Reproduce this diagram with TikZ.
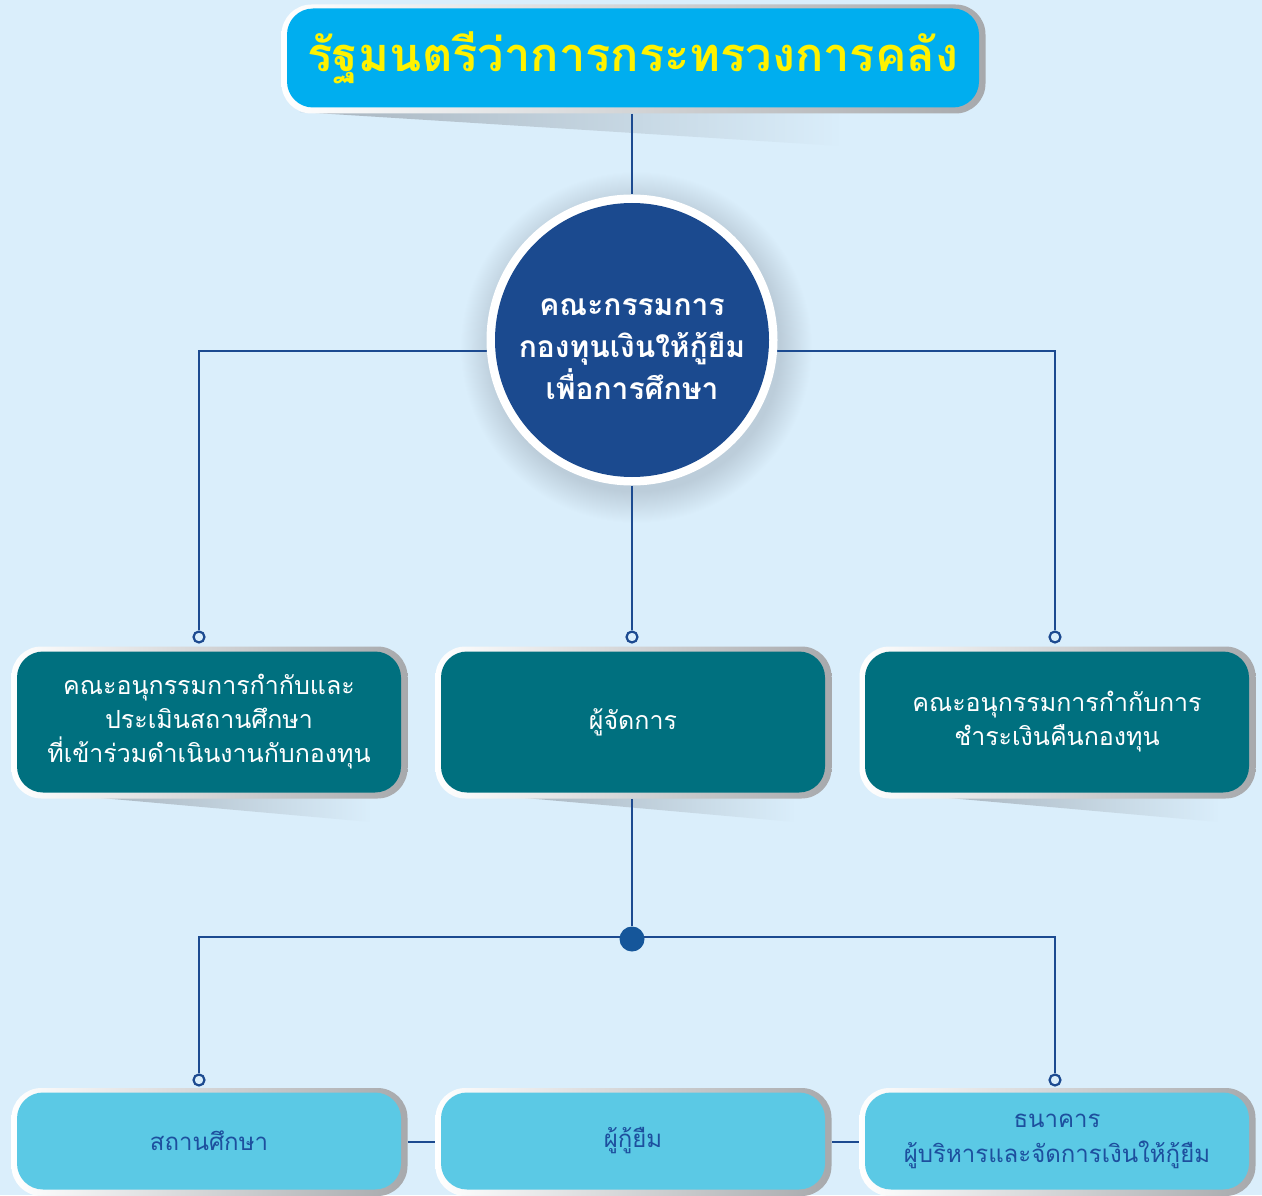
\documentclass[tikz,border=0pt]{standalone}
\usepackage{fontspec}
\usetikzlibrary{fadings}
\newfontfamily\thai[Script=Thai]{Loma}
\definecolor{bgc}{HTML}{DAEEFB}
\definecolor{cyanb}{HTML}{00AEEF}
\definecolor{yel}{HTML}{FFF200}
\definecolor{navy}{HTML}{1B4A8F}
\definecolor{linec}{HTML}{1C4A90}
\definecolor{teal}{HTML}{00707F}
\definecolor{lightb}{HTML}{5BC9E5}
\definecolor{btext}{HTML}{1D4F9E}
\definecolor{frameg}{HTML}{A7A9AC}
\definecolor{shadc}{HTML}{A9B5BF}
\definecolor{glowc}{HTML}{BCCDDA}
\definecolor{dotc}{HTML}{15569A}
\pgfdeclareradialshading{glow}{\pgfpoint{0bp}{0bp}}{color(0bp)=(glowc); color(20.5bp)=(glowc); color(25bp)=(bgc); color(50bp)=(bgc)}
\pgfdeclarelayer{back}
\pgfdeclarelayer{lines}
\pgfsetlayers{back,lines,main}
\begin{document}
\begin{tikzpicture}[x=1pt,y=-1pt,
  outer/.style={rectangle, rounded corners=30pt, left color=white, right color=frameg, inner sep=0pt},
  inner/.style={rectangle, rounded corners=26pt, inner sep=0pt, align=center},
  midbox/.style={inner, fill=teal, text=white, minimum width=384pt, minimum height=141pt,
     font=\thai\fontsize{25}{34}\selectfont},
  botbox/.style={inner, fill=lightb, text=btext, minimum width=384pt, minimum height=97pt,
     font=\thai\fontsize{24}{35}\selectfont},
  midframe/.style={outer, minimum width=396pt, minimum height=152pt},
  botframe/.style={outer, minimum width=396pt, minimum height=108pt},
  conn/.style={draw=linec, line width=2.8pt},
  ring/.style={circle, draw=linec, line width=2.2pt, fill=bgc, minimum size=11pt, inner sep=0pt},
  hubdot/.style={circle, fill=dotc, minimum size=25pt, inner sep=0pt},
  shad/.style={fill=shadc, path fading=east}
]
\begin{pgfonlayer}{back}
\fill[bgc] (0,0) rectangle (1262,1195);
\useasboundingbox (0,0) rectangle (1262,1195);
% shadows
\fill[shad] (300,112) -- (840,112) -- (840,146) -- cycle;
\fill[shad] (90,797) -- (370,797) -- (370,822) -- cycle;
\fill[shad] (514,797) -- (794,797) -- (794,822) -- cycle;
\fill[shad] (938,797) -- (1218,797) -- (1218,822) -- cycle;
% circle glow
\shade[shading=glow] (636,347) circle (176pt);
\end{pgfonlayer}

% top box
\node[outer, minimum width=704pt, minimum height=109pt] (top) at (633.5,59) {};
\node[inner, fill=cyanb, minimum width=692pt, minimum height=99pt, text=yel,
  font=\thai\bfseries\fontsize{47}{50}\selectfont] (topin) at (633,58) {รัฐมนตรีว่าการกระทรวงการคลัง};

% circle
\node[circle, fill=white, minimum size=291pt, inner sep=0pt] (circ) at (632,340) {};
\node[circle, fill=navy, minimum size=274pt, inner sep=0pt] (circin) at (632,340) {};
\node[text=white, align=center, font=\thai\bfseries\fontsize{30}{42}\selectfont]
  (circtext) at (632,349) {คณะกรรมการ\\กองทุนเงินให้กู้ยืม\\เพื่อการศึกษา};

% middle row
\node[midframe] (m1f) at (209.5,722.5) {};
\node[midbox] (m1) at (209,722) {คณะอนุกรรมการกำกับและ\\ประเมินสถานศึกษา\\ที่เข้าร่วมดำเนินงานกับกองทุน};
\node[midframe] (m2f) at (633.5,722.5) {};
\node[midbox] (m2) at (633,722) {ผู้จัดการ};
\node[midframe] (m3f) at (1057.5,722.5) {};
\node[midbox] (m3) at (1057,722) {คณะอนุกรรมการกำกับการ\\ชำระเงินคืนกองทุน};

% bottom row
\node[botframe] (b1f) at (209.5,1142) {};
\node[botbox] (b1) at (209,1141) {สถานศึกษา};
\node[botframe] (b2f) at (633.5,1142) {};
\node[botbox] (b2) at (633,1141) {ผู้กู้ยืม};
\node[botframe] (b3f) at (1057.5,1142) {};
\node[botbox] (b3) at (1057,1141) {ธนาคาร\\ผู้บริหารและจัดการเงินให้กู้ยืม};

% rings and hub
\node[ring] (r1) at (199,637) {};
\node[ring] (r2) at (632,637) {};
\node[ring] (r3) at (1055,637) {};
\node[hubdot] (dot) at (632,939) {};
\node[ring] (r4) at (199,1080) {};
\node[ring] (r5) at (1055,1080) {};
\coordinate (hub) at (632,351);
\coordinate (hub2) at (632,937);

\begin{pgfonlayer}{lines}
\draw[conn] (circ.north |- top.south) -- (circ.north);
\draw[conn] (hub) -| (r1);
\draw[conn] (hub) -| (r3);
\draw[conn] (circ.south) -- (r2);
\draw[conn] (dot |- m2f.south) -- (dot);
\draw[conn] (hub2) -| (r4);
\draw[conn] (hub2) -| (r5);
\draw[conn] (b1f.east) -- (b2f.west);
\draw[conn] (b2f.east) -- (b3f.west);
\end{pgfonlayer}
\end{tikzpicture}
\end{document}
